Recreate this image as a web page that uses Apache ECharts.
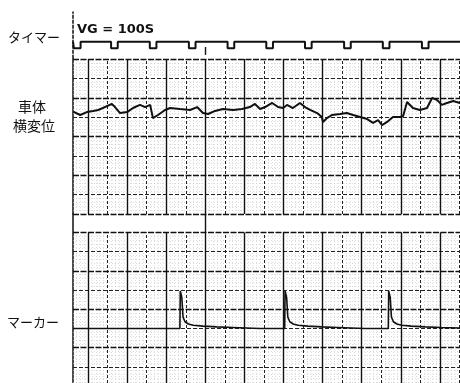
<!DOCTYPE html>
<html><head><meta charset="utf-8">
<script src="https://cdn.jsdelivr.net/npm/echarts@6/dist/echarts.min.js"></script>
<style>html,body{margin:0;padding:0;background:#fff}#c{width:460px;height:383px}</style>
</head><body><div id="c"></div>
<script>
// ---- axis extents (x in major chart divisions, 0 = first heavy line) ----
const xMin = -0.384, xMax = 9.514;

// ---- timer: notch start times ----
const timerMarks = [-0.36, 0.59, 1.58, 2.58, 3.57, 4.56, 5.55, 6.55, 7.54, 8.54];
const notchWidth = 0.17;

// ---- 車体横変位 (vehicle lateral displacement), in divisions ----
const dispX = [-0.38,-0.20,-0.03,0.13,0.26,0.38,0.61,0.69,0.82,1.00,1.15,1.33,1.46,1.59,1.66,1.79,1.97,2.10,2.35,2.61,2.79,2.94,3.07,3.25,3.45,3.71,3.94,4.14,4.27,4.40,4.53,4.71,4.86,4.99,5.09,5.24,5.42,5.55,5.68,5.86,5.98,6.01,6.11,6.24,6.45,6.62,6.78,6.96,7.14,7.29,7.42,7.52,7.65,7.80,7.98,8.06,8.16,8.31,8.49,8.67,8.80,8.93,9.05,9.18,9.34,9.51];
const dispY = [5.28,5.11,5.26,5.32,5.37,5.47,5.68,5.52,5.21,5.26,5.47,5.63,5.52,5.63,4.95,5.11,5.37,5.47,5.42,5.37,5.52,5.21,5.16,5.32,5.42,5.37,5.42,5.52,5.68,5.42,5.52,5.73,5.52,5.47,5.63,5.47,5.73,5.52,5.37,5.21,5.01,4.75,4.95,5.11,5.16,5.21,5.11,5.01,4.90,4.70,4.85,4.59,4.75,5.01,5.01,5.06,5.78,5.47,5.37,5.47,5.99,5.88,5.63,5.73,5.83,5.73];

// ---- マーカー (marker pulses) ----
const markerX = [-0.384,
  2.35,2.36,2.38,2.40,2.43,2.48,2.57,2.69,2.94,3.29,3.71,4.40,
  5.03,5.04,5.06,5.08,5.11,5.16,5.25,5.37,5.62,5.97,6.39,7.08,
  7.68,7.69,7.71,7.73,7.76,7.81,7.90,8.02,8.27,8.62,9.04,9.514];
const markerY = [0,
  0,1.95,1.95,1.6,0.6,0.35,0.23,0.17,0.12,0.08,0.05,0,
  0,1.95,1.95,1.6,0.6,0.35,0.23,0.17,0.12,0.08,0.05,0,
  0,1.95,1.95,1.6,0.6,0.35,0.23,0.17,0.12,0.08,0.05,0.02];

// ---- chart paper ruling ----
const majorX = [0,1,2,3,4,5,6,7,8,9];
const minorX = [0.5,1.5,2.5,3.5,4.5,5.5,6.5,7.5,8.5,9.5];
const upperMajorY = [0,2,4,6,8];
const upperMinorY = [1,3,5,7];
const lowerMajorY = [-1,1,3,5];
const lowerMinorY = [-2,0,2,4];
const eventX = 3;

// ---- labels ----
const title = 'VG = 100S';
const timerLabel = 'タイマー';
const dispLabel1 = '車体';
const dispLabel2 = '横変位';
const markerLabel = 'マーカー';

function fineSteps(a, b, step, skip) {
  const out = [];
  for (let i = Math.round(a / step); i * step <= b + 1e-9; i++) {
    const v = +(i * step).toFixed(3);
    if (Math.abs(v / skip - Math.round(v / skip)) > 1e-6) out.push(v);
  }
  return out;
}
const fineX = fineSteps(-0.3, 9.5, 0.1, 0.5);
const upperFineY = fineSteps(0.2, 7.8, 0.2, 1);
const lowerFineY = fineSteps(-2.8, 4.8, 0.2, 1);

const sMajorV = {color:'#111', width:1.4, type:'solid'};
const sMinorV = {color:'#222', width:1, type:[3,2]};
const sMajorH = {color:'#111', width:1.3, type:[6,1.5]};
const sMinorH = {color:'#222', width:1, type:[4,2]};
const sFine = {color:'#c4c4c4', width:0.6, type:[1,2]};

function vFull(xs, st) { return xs.map(v => ({xAxis: v, lineStyle: st})); }
function hFull(ys, st) { return ys.map(v => ({yAxis: v, lineStyle: st})); }
function vSeg(xs, y0, y1, st) { return xs.map(v => [{coord:[v,y0], lineStyle: st},{coord:[v,y1]}]); }

function ruling(gi, data) {
  return {
    type:'line', xAxisIndex: gi, yAxisIndex: gi, data: [], silent: true, z: 1,
    markLine: { silent:true, symbol:['none','none'], label:{show:false}, animation:false,
      emphasis:{disabled:true}, data: data }
  };
}

const timerPts = [[xMin,1]];
timerMarks.forEach(m => { timerPts.push([m,1],[m,0],[m+notchWidth,0],[m+notchWidth,1]); });
timerPts.push([xMax,1]);

const lowerTop = 5, lowerBottom = -2.84;

const chart = echarts.init(document.getElementById('c'), null, {renderer:'canvas'});
const xAx = gi => ({type:'value', gridIndex:gi, min:xMin, max:xMax, show:false});
const yAx = (gi, mn, mx, dashed) => ({type:'value', gridIndex:gi, min:mn, max:mx,
  axisLabel:{show:false}, axisTick:{show:false}, splitLine:{show:false},
  axisLine:{show:true, onZero:false, lineStyle:{color:'#111', width:1.5, type: dashed ? [3,2] : 'solid'}}});

chart.setOption({
  animation:false,
  backgroundColor:'#fff',
  grid:[
    {left:73, right:0, top:12, height:46.2},
    {left:73, right:0, top:59, height:155},
    {left:73, right:0, top:214, height:169}
  ],
  xAxis:[xAx(0), xAx(1), xAx(2)],
  yAxis:[yAx(0,-1.5,5.5,true), yAx(1,0,8,false), yAx(2,-2.84,5.96,false)],
  graphic:[
    {type:'text', x:77, y:30, style:{text:title, font:'bold 13px "DejaVu Sans"', fill:'#111', align:'left', verticalAlign:'middle'}},
    {type:'text', x:34, y:37, style:{text:timerLabel, font:'13px "Noto Sans CJK JP"', fill:'#111', align:'center', verticalAlign:'middle'}},
    {type:'text', x:32, y:107, style:{text:dispLabel1, font:'14px "Noto Sans CJK JP"', fill:'#111', align:'center', verticalAlign:'middle'}},
    {type:'text', x:34, y:126, style:{text:dispLabel2, font:'14px "Noto Sans CJK JP"', fill:'#111', align:'center', verticalAlign:'middle'}},
    {type:'text', x:33, y:322, style:{text:markerLabel, font:'13px "Noto Sans CJK JP"', fill:'#111', align:'center', verticalAlign:'middle'}}
  ],
  series:[
    ruling(0, vSeg([eventX], -1.0, 0.2, sMajorV)),
    {type:'line', xAxisIndex:0, yAxisIndex:0, data:timerPts, showSymbol:false, silent:true, z:5,
      lineStyle:{color:'#111', width:2}},
    ruling(1, [].concat(vFull(fineX, sFine), hFull(upperFineY, sFine), vFull(minorX, sMinorV),
      hFull(upperMinorY, sMinorH), vFull(majorX, sMajorV), hFull(upperMajorY, sMajorH))),
    {type:'line', xAxisIndex:1, yAxisIndex:1, data:dispX.map((x,i)=>[x,dispY[i]]), showSymbol:false, silent:true, z:5,
      lineStyle:{color:'#111', width:2}},
    ruling(2, [].concat(vSeg(fineX, lowerBottom, lowerTop, sFine), hFull(lowerFineY, sFine),
      vSeg(minorX, lowerBottom, lowerTop, sMinorV), hFull(lowerMinorY, sMinorH),
      vSeg(majorX, lowerBottom, lowerTop, sMajorV), hFull(lowerMajorY, sMajorH),
      vSeg([eventX], lowerTop, 5.96, sMajorV))),
    {type:'line', xAxisIndex:2, yAxisIndex:2, data:markerX.map((x,i)=>[x,markerY[i]]), showSymbol:false, silent:true, z:5,
      lineStyle:{color:'#111', width:1.6}}
  ]
});
</script></body></html>
